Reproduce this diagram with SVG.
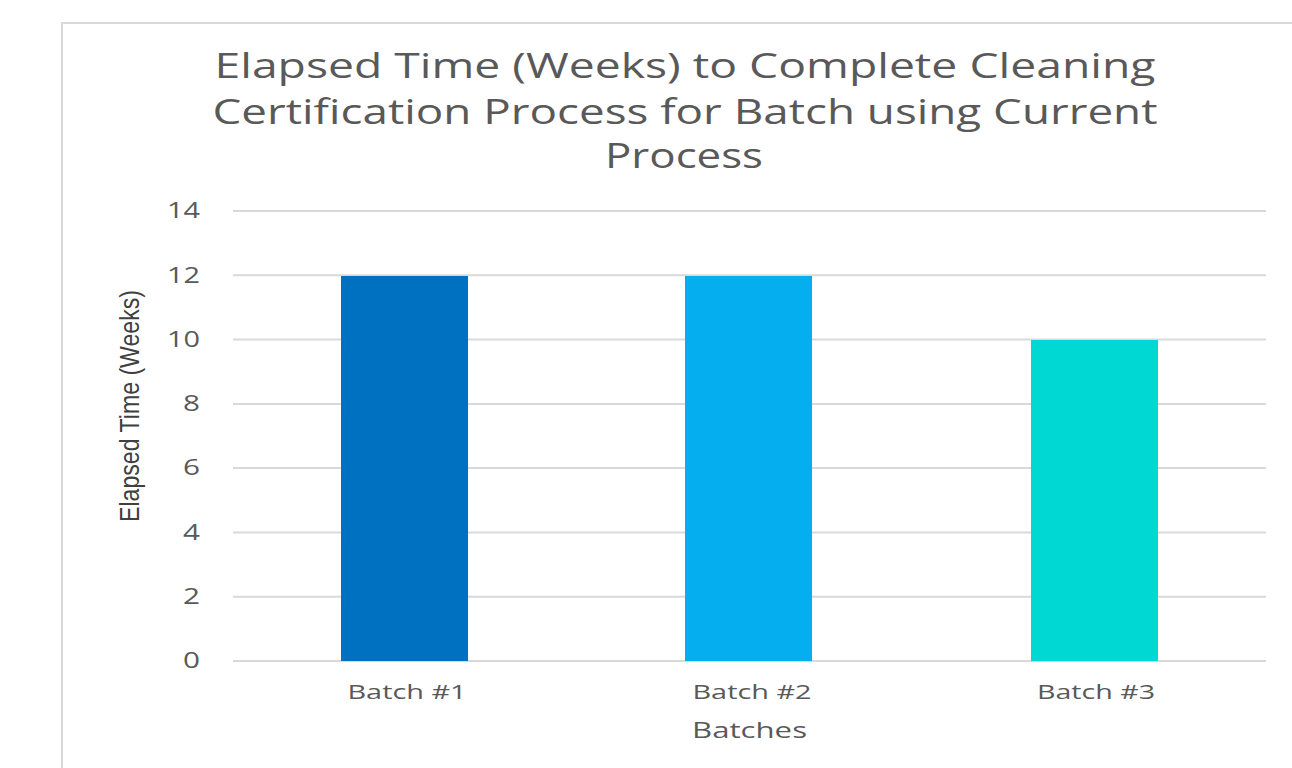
<svg xmlns="http://www.w3.org/2000/svg" width="1292" height="768" viewBox="0 0 1292 768">
<style>
.t{font-family:"Open Sans","DejaVu Sans",sans-serif;fill:#595959}
.title{font-size:35px}
.tick{font-size:21px;text-anchor:end}
.cat{font-size:20px;text-anchor:middle}
.grid{stroke:#d9d9d9;stroke-width:2}
</style>
<rect width="1292" height="768" fill="#ffffff"/>
<path d="M62 768V23H1292" fill="none" stroke="#d9d9d9" stroke-width="2"/>
<g id="title" class="t title" text-anchor="middle">
<text x="685" y="78" textLength="941" lengthAdjust="spacingAndGlyphs">Elapsed Time (Weeks) to Complete Cleaning</text>
<text x="685" y="124" textLength="945" lengthAdjust="spacingAndGlyphs">Certification Process for Batch using Current</text>
<text x="684" y="168" textLength="158" lengthAdjust="spacingAndGlyphs">Process</text>
</g>
<g id="gridlines" class="grid">
<line x1="233" y1="211" x2="1266" y2="211"/>
<line x1="233" y1="275.3" x2="1266" y2="275.3"/>
<line x1="233" y1="339.6" x2="1266" y2="339.6"/>
<line x1="233" y1="403.9" x2="1266" y2="403.9"/>
<line x1="233" y1="468.1" x2="1266" y2="468.1"/>
<line x1="233" y1="532.4" x2="1266" y2="532.4"/>
<line x1="233" y1="596.7" x2="1266" y2="596.7"/>
<line x1="233" y1="661" x2="1266" y2="661"/>
</g>
<g id="yticks" class="t tick">
<text x="200" y="218" textLength="33" lengthAdjust="spacingAndGlyphs">14</text>
<text x="200" y="283" textLength="33" lengthAdjust="spacingAndGlyphs">12</text>
<text x="200" y="347" textLength="33" lengthAdjust="spacingAndGlyphs">10</text>
<text x="200" y="411" textLength="17" lengthAdjust="spacingAndGlyphs">8</text>
<text x="200" y="475" textLength="17" lengthAdjust="spacingAndGlyphs">6</text>
<text x="200" y="540" textLength="17" lengthAdjust="spacingAndGlyphs">4</text>
<text x="200" y="604" textLength="17" lengthAdjust="spacingAndGlyphs">2</text>
<text x="200" y="668" textLength="17" lengthAdjust="spacingAndGlyphs">0</text>
</g>
<g id="bar1"><rect x="341" y="276" width="127" height="385" fill="#0070c0"/></g>
<g id="bar2"><rect x="685" y="276" width="127" height="385" fill="#05afef"/></g>
<g id="bar3"><rect x="1031" y="340" width="127" height="321" fill="#00d9d3"/></g>
<g id="xlabels" class="t cat">
<text x="407" y="699" textLength="119" lengthAdjust="spacingAndGlyphs">Batch #1</text>
<text x="752" y="699" textLength="119" lengthAdjust="spacingAndGlyphs">Batch #2</text>
<text x="1096" y="699" textLength="118" lengthAdjust="spacingAndGlyphs">Batch #3</text>
</g>
<text id="xtitle" class="t" x="749.5" y="738" font-size="22" text-anchor="middle" textLength="115" lengthAdjust="spacingAndGlyphs">Batches</text>
<text id="ytitle" x="0" y="0" transform="translate(139 406) rotate(-90)" font-family="'Liberation Sans','DejaVu Sans',sans-serif" font-size="28" fill="#404040" text-anchor="middle" textLength="232" lengthAdjust="spacingAndGlyphs">Elapsed Time (Weeks)</text>
</svg>
